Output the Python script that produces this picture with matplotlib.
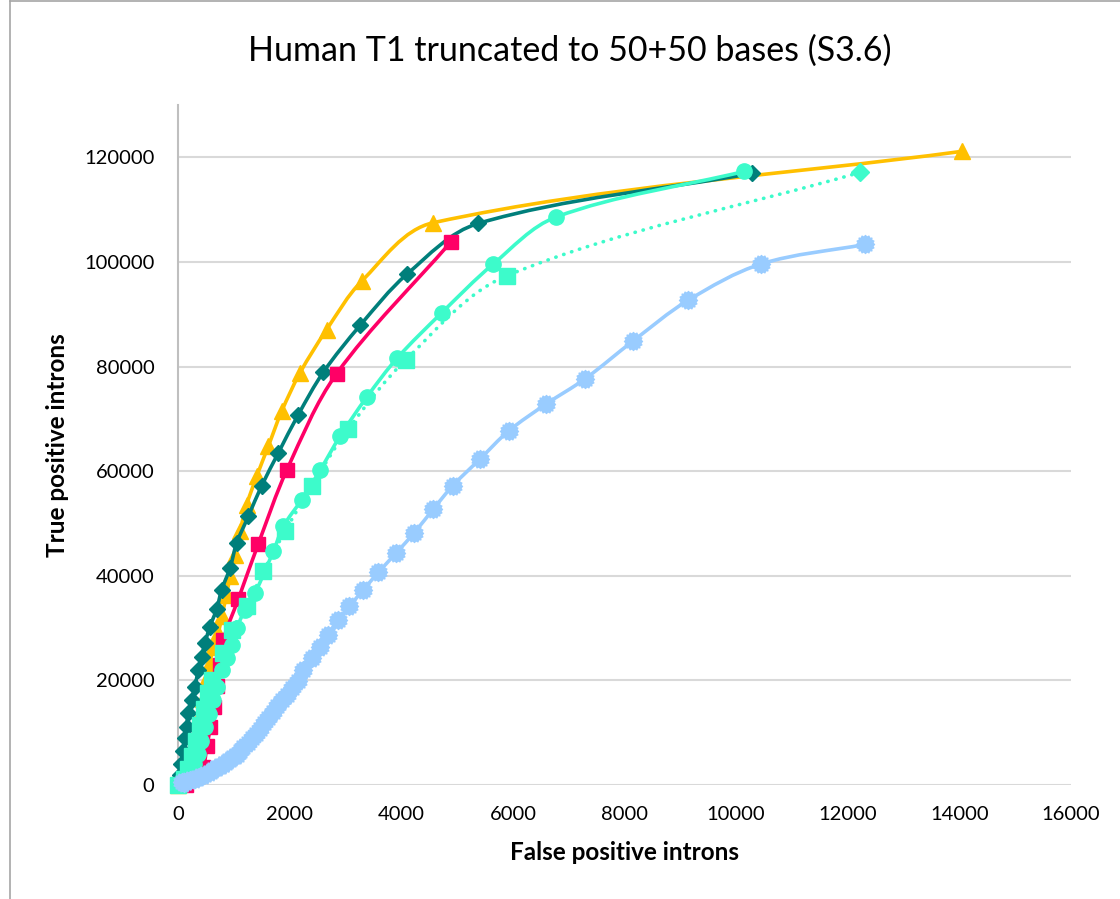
import numpy as np
import matplotlib
matplotlib.use("Agg")
import matplotlib.pyplot as plt
from matplotlib.path import Path
from matplotlib.patches import PathPatch
from matplotlib.lines import Line2D

plt.rcParams['font.family'] = ['Lato', 'DejaVu Sans']

# series (false positives, true positives)
gold_fp = [0, 70, 140, 200, 260, 320, 380, 440, 500, 573, 634, 723, 783, 872, 932,
           1021, 1111, 1231, 1410, 1618, 1858, 2186, 2665, 3292, 4575, 14050]
gold_tp = [0, 1000, 2500, 4500, 7000, 10000, 13000, 16500, 20000, 23350, 26470, 29030,
           32220, 36360, 39870, 44020, 48480, 53590, 59000, 64750, 71450, 78790, 87080,
           96330, 107500, 121150]

teal_fp = [0, 30, 60, 90, 125, 155, 185, 245, 305, 364, 424, 484, 573, 693, 783, 932,
           1052, 1260, 1500, 1798, 2156, 2604, 3262, 4098, 5382, 10290]
teal_tp = [0, 2000, 4000, 6500, 9000, 11160, 13720, 16270, 18820, 22010, 24560, 27120,
           30300, 33620, 37320, 41470, 46250, 51350, 57220, 63480, 70810, 78910, 87850,
           97610, 107370, 116940]

red_fp = [150, 300, 450, 520, 580, 640, 700, 760, 812, 1081, 1440, 1948, 2844, 4887]
red_tp = [0, 1500, 3500, 7500, 11000, 15000, 19000, 23000, 27750, 35530, 46120, 60160,
          78660, 103790]

mint_fp = [0, 50, 120, 200, 280, 350, 420, 490, 560, 634, 693, 783, 872, 962, 1052,
           1201, 1380, 1708, 1888, 2216, 2545, 2903, 3381, 3931, 4725, 5640, 6774, 10143]
mint_tp = [0, 300, 1000, 2200, 4000, 6000, 8500, 11000, 13500, 16270, 18820, 22010,
           24240, 26790, 29980, 33490, 36690, 44660, 49440, 54550, 60160, 66660, 74130,
           81660, 90270, 99520, 108580, 117300]

mint_dot_fp = [0, 100, 180, 260, 330, 400, 470, 540, 604, 812, 962, 1231, 1529, 1918,
               2396, 3052, 4086, 5890, 12222]
mint_dot_tp = [0, 1200, 3000, 5500, 8500, 11500, 14500, 17500, 20100, 25200, 29670,
               34130, 40830, 48480, 57220, 68080, 81340, 97350, 117130]

blue_fp = [66, 100, 160, 220, 300, 380, 460, 570, 640, 710, 780, 850, 920, 990, 1050,
           1110, 1170, 1250, 1320, 1400, 1470, 1540, 1620, 1700, 1780, 1860, 1950, 2050,
           2156, 2246, 2396, 2545, 2694, 2873, 3070, 3321, 3590, 3907, 4229, 4575, 4923,
           5412, 5926, 6595, 7294, 8148, 9134, 10445, 12312]
blue_tp = [630, 400, 700, 950, 1200, 1600, 2000, 2500, 3000, 3500, 3900, 4300, 4800,
           5300, 5800, 6500, 7200, 8000, 8900, 9800, 10800, 11800, 12900, 14000, 15100,
           16200, 17300, 18600, 19800, 22010, 24370, 26470, 28710, 31580, 34130, 37320,
           40640, 44340, 48170, 52760, 57220, 62330, 67700, 72830, 77650, 84840, 92630,
           99600, 103350]

# jagged round marker used by the light blue series
n = 16
ang = np.linspace(0, 2 * np.pi, 2 * n, endpoint=False)
rad = np.where(np.arange(2 * n) % 2 == 0, 1.0, 0.82)
verts = np.column_stack([rad * np.cos(ang), rad * np.sin(ang)])
verts = np.vstack([verts, verts[:1]])
gear = Path(verts, closed=True)


def smooth_path(ax, xs, ys):
    # Excel-like smoothed line: cubic bezier segments through the points.
    # Tangent direction from the neighbours, handle length a third of the
    # segment, so uneven spacing does not overshoot.
    pts = ax.transData.transform(np.column_stack([xs, ys]))
    m = len(pts)
    tang = []
    for i in range(m):
        d = pts[min(i + 1, m - 1)] - pts[max(i - 1, 0)]
        nrm = np.hypot(*d)
        tang.append(d / nrm if nrm > 0 else d)
    v = [pts[0]]
    codes = [Path.MOVETO]
    for i in range(m - 1):
        p1, p2 = pts[i], pts[i + 1]
        L = np.hypot(*(p2 - p1)) / 3
        v += [p1 + tang[i] * L, p2 - tang[i + 1] * L, p2]
        codes += [Path.CURVE4] * 3
    v = ax.transData.inverted().transform(np.array(v))
    return Path(v, codes)


def draw(ax, xs, ys, color, marker, ms, z, ls='-'):
    patch = PathPatch(smooth_path(ax, xs, ys), fill=False, edgecolor=color, lw=2.6,
                      ls=ls, capstyle='round', joinstyle='round', clip_on=False, zorder=z)
    ax.add_patch(patch)
    if marker is not None:
        ax.plot(xs, ys, ls='none', color=color, marker=marker, ms=ms, clip_on=False, zorder=z)


fig = plt.figure(figsize=(11.2, 8.99), dpi=100)
ax = fig.add_axes([0.1589, 0.1268, 0.7974, 0.7564])
ax.set_xlim(0, 16000)
ax.set_ylim(0, 130000)

draw(ax, gold_fp, gold_tp, '#FFC000', '^', 11, 3)
draw(ax, teal_fp, teal_tp, '#007F7B', 'D', 8, 4)
draw(ax, red_fp, red_tp, '#FF0066', 's', 10, 5)
draw(ax, mint_dot_fp, mint_dot_tp, '#3DFBCB', None, 0, 6, ls=(0, (0.1, 2.2)))
ax.plot(mint_dot_fp[:-1], mint_dot_tp[:-1], ls='none', color='#3DFBCB', marker='s', ms=11,
        clip_on=False, zorder=6)
ax.plot(mint_dot_fp[-1:], mint_dot_tp[-1:], ls='none', color='#3DFBCB', marker='D', ms=9,
        clip_on=False, zorder=6)
draw(ax, mint_fp, mint_tp, '#3DFBCB', 'o', 11, 7)
draw(ax, blue_fp, blue_tp, '#99CCFF', gear, 13, 8)

ax.set_xticks(np.arange(0, 16001, 2000))
ax.set_yticks(np.arange(0, 120001, 20000))
ax.tick_params(length=0, labelsize=14.5)
ax.tick_params(axis='x', pad=15)
ax.tick_params(axis='y', pad=17)
ax.grid(axis='y', color='#D9D9D9', lw=1.5, zorder=0)
ax.set_axisbelow(True)
for s in ['top', 'right', 'bottom']:
    ax.spines[s].set_visible(False)
ax.spines['left'].set_color('#BFBFBF')
ax.spines['left'].set_linewidth(1.5)

ax.set_xlabel('False positive introns', fontsize=17.5, fontweight='bold', labelpad=13)
ax.set_ylabel('True positive introns', fontsize=17.5, fontweight='bold', labelpad=11)
fig.text(0.509, 0.944, 'Human T1 truncated to 50+50 bases (S3.6)', fontsize=24.5,
         ha='center', va='center')

# chart area border (cropped on right and bottom)
fig.add_artist(Line2D([10 / 1120, 10 / 1120], [0, 1 - 1 / 899], color='#A6A6A6', lw=1.2))
fig.add_artist(Line2D([10 / 1120, 1], [1 - 1 / 899, 1 - 1 / 899], color='#A6A6A6', lw=1.2))

fig.savefig('out.png', dpi=100)
